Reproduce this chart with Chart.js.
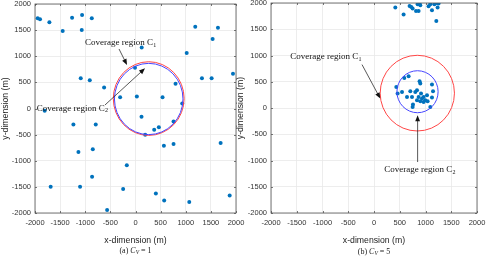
<!DOCTYPE html>
<html>
<head>
<meta charset="utf-8">
<script src="https://cdn.jsdelivr.net/npm/chart.js@4.4.1/dist/chart.umd.min.js"></script>
<style>
  html, body { margin: 0; padding: 0; background: #fff; }
  #wrap { position: relative; width: 491px; height: 262px; overflow: hidden; }
  canvas { position: absolute; top: 0; }
  #chartA { left: 0; }
  #chartB { left: 235px; }
</style>
</head>
<body>
<div id="wrap">
  <canvas id="chartA" width="245" height="262"></canvas>
  <canvas id="chartB" width="256" height="262"></canvas>
</div>
<script>
// tick labels shared by both panels (metres)
const axisTicks = [-2000, -1500, -1000, -500, 0, 500, 1000, 1500, 2000];

// (a) C_V = 1 : user positions
const usersAX = [-1947, -1900, -1714, -1449, -1262, -1063, -1070, -870, 123, -10,
    -1090, -910, -625, -306, 27, 538, 797, 930, -1807, 120,
    -1236, -791, 465, 372, 757, 1019, 1189, 1535, 1641, 1322,
    1515, 1940, 193, 565, 757, 1694, -1136, -850, -173, -864,
    -1688, -1103, -246, 405, 571, 1070, 1874, -565];
const usersAY = [1725, 1706, 1649, 1482, 1738, 1789, 1502, 1725, 1168, 782,
    581, 543, 403, 217, 230, 217, 473, 96, -45, -160,
    -307, -307, -358, -409, -249, 1060, 1565, 1329, 1546, 581,
    581, 665, -502, -711, -679, -660, -832, -781, -1086, -1308,
    -1498, -1498, -1543, -1625, -1759, -1790, -1663, -1943];

// (b) C_V = 5 : user positions
const usersBX = [414, 575, 691, 724, 750, 816, 866, 847, 885, 899,
    1060, 1093, 1126, 1171, 1235, 1254, 1210, 1190,
    672, 588, 433, 458, 544, 641, 738, 705, 802, 835,
    885, 899, 913, 866, 932, 963, 996, 1029, 1041, 963,
    899, 757, 750, 1126, 1146, 1126, 1093, 835];
const usersBY = [1912, 1779, 1943, 1924, 1893, 1848, 1848, 1975, 1989, 1956,
    1937, 1975, 1861, 1975, 1912, 1989, 1657, 1989,
    604, 571, 400, 274, 305, 210, 210, 318, 305, 337,
    509, 465, 274, 210, 179, 210, 147, 242, 128, 114,
    128, 65, 19, 446, 318, 198, 19, 147];

// coverage regions C1 (red) and C2 (blue): centre and radius in metres
const regionAX = [263, 263];
const regionAY = [190, 182];
const regionAR = [705, 682];
const regionBX = [841, 845];
const regionBY = [283, 310];
const regionBR = [721, 400];

const regionColors = ['rgb(255,70,70)', 'rgb(70,70,255)'];
const sansFont = '"Liberation Sans", Arial, sans-serif';
const serifFont = '"Liberation Serif", "Times New Roman", serif';

// draws the coverage circles, arrows, labels, inner ticks, box and caption
const extrasPlugin = {
    id: 'extras',
    afterDatasetsDraw(chart, args, opts) {
        const { ctx, chartArea: area } = chart;
        const xs = chart.scales.x, ys = chart.scales.y;
        ctx.save();
        ctx.beginPath();
        ctx.rect(area.left, area.top, area.right - area.left, area.bottom - area.top);
        ctx.clip();
        opts.cx.forEach((cx, i) => {
            const px = xs.getPixelForValue(cx);
            const py = ys.getPixelForValue(opts.cy[i]);
            const rx = Math.abs(xs.getPixelForValue(cx + opts.r[i]) - px);
            const ry = Math.abs(ys.getPixelForValue(opts.cy[i] + opts.r[i]) - py);
            ctx.beginPath();
            ctx.ellipse(px, py, rx, ry, 0, 0, Math.PI * 2);
            ctx.strokeStyle = regionColors[i];
            ctx.lineWidth = 1;
            ctx.stroke();
        });
        ctx.restore();

        ctx.save();
        // arrows
        opts.arrows.forEach(a => {
            const x1 = xs.getPixelForValue(a[0]), y1 = ys.getPixelForValue(a[1]);
            const x2 = xs.getPixelForValue(a[2]), y2 = ys.getPixelForValue(a[3]);
            const ang = Math.atan2(y2 - y1, x2 - x1);
            const hl = 6, hw = 2.4;
            ctx.strokeStyle = '#111';
            ctx.lineWidth = 0.7;
            ctx.beginPath();
            ctx.moveTo(x1, y1);
            ctx.lineTo(x2 - Math.cos(ang) * hl * 0.8, y2 - Math.sin(ang) * hl * 0.8);
            ctx.stroke();
            ctx.fillStyle = '#111';
            ctx.beginPath();
            ctx.moveTo(x2, y2);
            ctx.lineTo(x2 - Math.cos(ang) * hl - Math.sin(ang) * hw, y2 - Math.sin(ang) * hl + Math.cos(ang) * hw);
            ctx.lineTo(x2 - Math.cos(ang) * hl + Math.sin(ang) * hw, y2 - Math.sin(ang) * hl - Math.cos(ang) * hw);
            ctx.closePath();
            ctx.fill();
        });
        // labels with subscripts
        ctx.fillStyle = '#111';
        ctx.textBaseline = 'middle';
        ctx.textAlign = 'left';
        opts.labels.forEach(l => {
            const x = xs.getPixelForValue(l.x), y = ys.getPixelForValue(l.y);
            ctx.font = '9px ' + serifFont;
            ctx.fillText(l.text, x, y);
            const w = ctx.measureText(l.text).width;
            ctx.font = '6px ' + serifFont;
            ctx.fillText(l.sub, x + w + 0.3, y + 2.5);
        });
        ctx.restore();
    },
    afterDraw(chart, args, opts) {
        const { ctx, chartArea: area } = chart;
        const xs = chart.scales.x, ys = chart.scales.y;
        ctx.save();
        ctx.strokeStyle = '#555';
        ctx.lineWidth = 0.8;
        ctx.beginPath();
        axisTicks.forEach(v => {
            const px = Math.round(xs.getPixelForValue(v)) + 0.5;
            ctx.moveTo(px, area.bottom); ctx.lineTo(px, area.bottom - 2);
            ctx.moveTo(px, area.top); ctx.lineTo(px, area.top + 2);
            const py = Math.round(ys.getPixelForValue(v)) + 0.5;
            ctx.moveTo(area.left, py); ctx.lineTo(area.left + 2, py);
            ctx.moveTo(area.right, py); ctx.lineTo(area.right - 2, py);
        });
        ctx.stroke();
        ctx.strokeRect(area.left, area.top, area.right - area.left, area.bottom - area.top);

        // caption "(x) C_V = n"
        const parts = [
            { t: opts.caption[0], f: '8px ' + serifFont, dy: 0 },
            { t: 'C', f: 'italic 8px ' + serifFont, dy: 0 },
            { t: 'V', f: 'italic 5.5px ' + serifFont, dy: 2 },
            { t: opts.caption[1], f: '8px ' + serifFont, dy: 0 }
        ];
        let total = 0;
        parts.forEach(p => { ctx.font = p.f; p.w = ctx.measureText(p.t).width; total += p.w; });
        let x = (area.left + area.right) / 2 - total / 2;
        ctx.fillStyle = '#222';
        ctx.textBaseline = 'middle';
        ctx.textAlign = 'left';
        parts.forEach(p => {
            ctx.font = p.f;
            ctx.fillText(p.t, x, opts.captionY + p.dy);
            x += p.w;
        });
        ctx.restore();
    }
};

// keep the plot box where the layout padding puts it (labels may overhang)
function noLabelPadding(s) {
    s.paddingLeft = 0;
    s.paddingRight = 0;
    s.paddingTop = 0;
    s.paddingBottom = 0;
}

function buildScales(yWidth) {
    const tickFont = { family: sansFont, size: 7.5 };
    return {
        x: {
            type: 'linear',
            min: -2000,
            max: 2000,
            afterBuildTicks: s => { s.ticks = axisTicks.map(v => ({ value: v })); },
            afterFit: s => { s.height = 33; noLabelPadding(s); },
            grid: { color: '#e8e8e8', lineWidth: 0.8, drawTicks: false },
            border: { display: false },
            ticks: { padding: 5, color: '#333', font: tickFont, maxRotation: 0, autoSkip: false, callback: v => String(v) },
            title: { display: true, text: 'x-dimension (m)', color: '#222', font: { family: sansFont, size: 8.7 }, padding: 0 }
        },
        y: {
            type: 'linear',
            min: -2000,
            max: 2000,
            afterBuildTicks: s => { s.ticks = axisTicks.map(v => ({ value: v })); },
            afterFit: s => { s.width = yWidth; noLabelPadding(s); },
            grid: { color: '#e8e8e8', lineWidth: 0.8, drawTicks: false },
            border: { display: false },
            ticks: { padding: 4, color: '#333', font: tickFont, autoSkip: false, callback: v => String(v) },
            title: { display: true, text: 'y-dimension (m)', color: '#222', font: { family: sansFont, size: 8.7 }, padding: 0 }
        }
    };
}

function makePanel(canvasId, xs, ys, yWidth, padding, extras) {
    const ctx = document.getElementById(canvasId).getContext('2d');
    return new Chart(ctx, {
        type: 'scatter',
        data: {
            datasets: [{
                data: xs.map((x, i) => ({ x: x, y: ys[i] })),
                backgroundColor: '#0072BD',
                borderWidth: 0,
                pointRadius: 2,
                pointHoverRadius: 2
            }]
        },
        options: {
            responsive: false,
            animation: false,
            layout: { padding: padding },
            scales: buildScales(yWidth),
            plugins: {
                legend: { display: false },
                tooltip: { enabled: false },
                extras: extras
            }
        },
        plugins: [extrasPlugin]
    });
}

makePanel('chartA', usersAX, usersAY, 35, { left: 0, right: 9, top: 4, bottom: 16 }, {
    cx: regionAX, cy: regionAY, r: regionAR,
    arrows: [[-328, 1139, -169, 833], [-607, 67, 189, 769]],
    labels: [
        { x: -1005, y: 1254, text: 'Coverage region C', sub: '1' },
        { x: -1966, y: 4, text: 'Coverage region C', sub: '2' }
    ],
    caption: ['(a) ', ' = 1'],
    captionY: 251
});

makePanel('chartB', usersBX, usersBY, 36, { left: 0, right: 14, top: 3, bottom: 16 }, {
    cx: regionBX, cy: regionBY, r: regionBR,
    arrows: [[-233, 827, 122, 179], [847, -1029, 847, -139]],
    labels: [
        { x: -1625, y: 971, text: 'Coverage region C', sub: '1' },
        { x: 200, y: -1173, text: 'Coverage region C', sub: '2' }
    ],
    caption: ['(b) ', ' = 5'],
    captionY: 252
});
</script>
</body>
</html>
